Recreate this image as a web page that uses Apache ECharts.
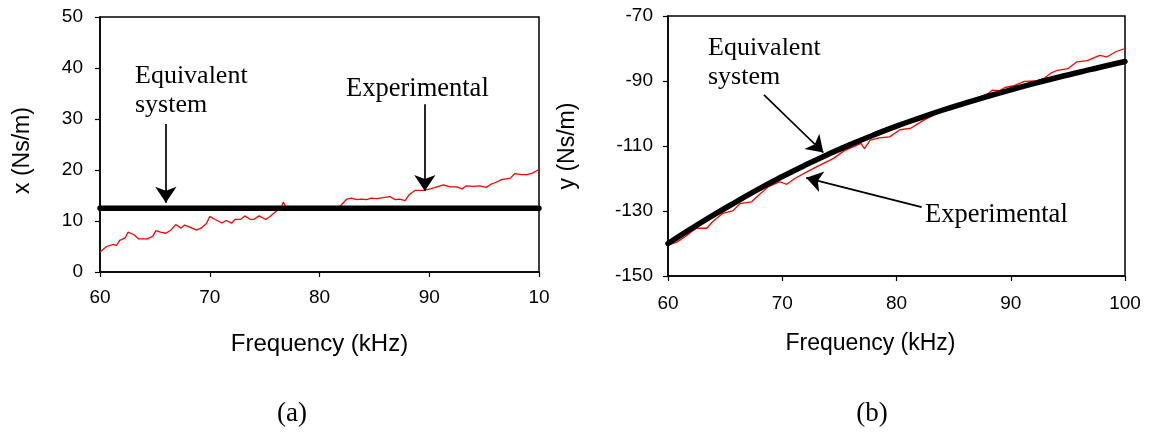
<!DOCTYPE html>
<html>
<head>
<meta charset="utf-8">
<script src="https://cdn.jsdelivr.net/npm/echarts@6/dist/echarts.min.js"></script>
<style>
html,body{margin:0;padding:0;background:#fff;}
#chart{width:1152px;height:443px;}
</style>
</head>
<body>
<div id="chart"></div>
<script>
// ---- Data ----
const xTicks = [60, 70, 80, 90, 100];
const leftXTickLabels = ['60', '70', '80', '90', '10'];
const rightXTickLabels = ['60', '70', '80', '90', '100'];
const leftYTicks = [0, 10, 20, 30, 40, 50];
const rightYTicks = [-150, -130, -110, -90, -70];

// (a) real part: experimental (red) and equivalent system (black)
const leftExperimental = [
  [60,3.9],[60.6,5.0],[61.2,5.4],[61.5,5.2],[61.8,6.2],[62.3,6.7],[62.55,7.8],[63.1,7.3],[63.5,6.5],
  [64.3,6.5],[64.8,7.0],[65.1,8.1],[65.5,7.8],[66.0,7.6],[66.5,8.3],[66.9,9.3],[67.4,8.6],[67.7,9.2],
  [68.2,8.8],[68.8,8.2],[69.2,8.6],[69.7,9.5],[70.0,10.9],[70.5,10.3],[71.1,9.6],[71.5,10.1],[72.0,9.6],
  [72.3,10.3],[72.8,10.3],[73.2,11.0],[73.7,10.3],[74.0,10.3],[74.5,11.0],[75.1,10.3],[75.5,10.9],
  [76.0,11.8],[76.5,12.5],[76.7,13.7],[77.0,12.6],[78,12.4],[79,12.5],[80,12.4],[81,12.6],[81.8,12.8],
  [82.0,13.2],[82.5,14.3],[82.9,14.5],[83.4,14.2],[83.8,14.3],[84.3,14.2],[84.7,14.5],[85.2,14.4],
  [85.8,14.6],[86.4,14.8],[86.9,14.2],[87.3,14.3],[87.8,14.0],[88.2,15.2],[88.7,16.0],[89.5,16.0],
  [90.1,16.3],[90.7,16.7],[91.3,17.1],[91.9,16.7],[92.5,16.7],[93.0,16.3],[93.4,16.9],[94.0,16.8],
  [94.6,16.9],[95.2,16.6],[95.7,17.3],[96.1,17.6],[96.6,18.1],[97.4,18.4],[97.8,19.3],[98.4,19.1],
  [98.9,19.1],[99.4,19.4],[100,20.1]
];
const leftEquivalent = [[60,12.5],[70,12.5],[80,12.5],[90,12.5],[100,12.5]];

// (b) imaginary part
const rightExperimental = [
  [60,-140.5],[60.8,-139.5],[61.5,-137.9],[62.0,-136.5],[62.5,-135.3],[63.4,-135.3],[63.9,-133.3],
  [64.8,-130.7],[65.7,-129.9],[66.3,-127.7],[67.3,-127.2],[68.1,-124.6],[68.8,-122.5],[69.8,-121.0],
  [70.4,-121.8],[71.1,-120.0],[72.2,-117.9],[73.3,-115.9],[74.5,-113.8],[75.4,-111.5],[76.9,-109.2],
  [77.2,-110.8],[77.7,-108.2],[78.5,-107.5],[79.4,-107.2],[80.3,-105.0],[81.2,-104.6],[82.5,-101.8],
  [84,-99.3],[85.5,-97.5],[87.0,-95.3],[88.0,-93.9],[88.4,-92.8],[89.0,-93.0],[89.5,-92.0],[90.3,-91.4],
  [91.2,-90.1],[92.2,-90.0],[92.9,-89.2],[93.5,-87.6],[94.1,-86.7],[95.0,-86.2],[95.8,-84.1],[96.7,-83.7],
  [97.8,-82.1],[98.4,-82.6],[99.2,-81.0],[100,-80.0]
];
const rightEquivalent = [
  [60,-140],[62,-135.5],[64,-131.2],[66,-127.1],[68,-123.1],[70,-119.4],[72,-115.9],[74,-112.6],
  [76,-109.5],[78,-106.6],[80,-103.9],[82,-101.4],[84,-99.0],[86,-96.8],[88,-94.7],[90,-92.7],
  [92,-90.8],[94,-89.0],[96,-87.3],[98,-85.6],[100,-84.0]
];

// annotation arrows (data coordinates: [from, to])
const leftArrows = [
  [[66.0, 29.0], [66.0, 13.6]],
  [[89.6, 32.9], [89.6, 15.9]]
];
const rightArrows = [
  [[68.4, -94.3], [73.6, -112.0]],
  [[82.2, -128.8], [72.1, -119.8]]
];

// ---- Chart ----
const SANS = 'Liberation Sans, Arial, sans-serif';
const SERIF = 'Liberation Serif, Times New Roman, serif';

function mkXAxis(gridIndex, labels, margin, gap, namePad, nameSize) {
  return {
    type: 'value', gridIndex, min: 60, max: 100, interval: 10,
    name: 'Frequency (kHz)', nameLocation: 'middle', nameGap: gap,
    nameTextStyle: { fontFamily: SANS, fontSize: nameSize, color: '#000', padding: namePad },
    axisLine: { show: true, onZero: false, lineStyle: { color: '#000', width: 1.5 } },
    axisTick: { show: true, inside: false, length: 5, lineStyle: { color: '#000', width: 1.2 } },
    axisLabel: { margin, fontFamily: SANS, fontSize: 19, color: '#000',
      formatter: v => labels[xTicks.indexOf(v)] },
    splitLine: { show: false }
  };
}
function mkYAxis(gridIndex, ticks, name, margin, gap, namePad) {
  return {
    type: 'value', gridIndex, min: ticks[0], max: ticks[ticks.length - 1],
    interval: ticks[1] - ticks[0],
    name, nameLocation: 'middle', nameGap: gap,
    nameTextStyle: { fontFamily: SANS, fontSize: 23, color: '#000', padding: namePad },
    axisLine: { show: true, onZero: false, lineStyle: { color: '#000', width: 1.5 } },
    axisTick: { show: true, inside: false, length: 5, lineStyle: { color: '#000', width: 1.2 } },
    axisLabel: { margin, fontFamily: SANS, fontSize: 19, color: '#000' },
    splitLine: { show: false }
  };
}
function arrowMarkLine(arrows) {
  return {
    silent: true, animation: false,
    symbol: ['none', 'arrow'], symbolSize: [16, 16],
    label: { show: false },
    lineStyle: { color: '#000', width: 1.7, type: 'solid' },
    emphasis: { disabled: true },
    data: arrows.map(a => [{ coord: a[0] }, { coord: a[1] }])
  };
}
function textEl(text, x, y, size, family, align) {
  return { type: 'text', x, y, silent: true,
    style: { text, fill: '#000', font: size + 'px ' + family, align: align || 'left', verticalAlign: 'middle' } };
}

const chart = echarts.init(document.getElementById('chart'), null, { renderer: 'canvas' });
chart.setOption({
  animation: false,
  backgroundColor: '#fff',
  grid: [
    { left: 100, right: 613, top: 17, bottom: 171, show: true, borderColor: '#000', borderWidth: 1.5, backgroundColor: 'transparent' },
    { left: 668, right: 27, top: 16, bottom: 167, show: true, borderColor: '#000', borderWidth: 1.5, backgroundColor: 'transparent' }
  ],
  xAxis: [
    mkXAxis(0, leftXTickLabels, 16, 60, [0, 0, 0, 0], 24),
    mkXAxis(1, rightXTickLabels, 18, 56, [0, 52, 0, 0], 23)
  ],
  yAxis: [
    mkYAxis(0, leftYTicks, 'x (Ns/m)', 17, 66, [0, 12, 0, 0]),
    mkYAxis(1, rightYTicks, 'y (Ns/m)', 15, 89, [0, 0, 0, 0])
  ],
  series: [
    { type: 'line', name: 'Experimental', xAxisIndex: 0, yAxisIndex: 0, data: leftExperimental,
      showSymbol: false, lineStyle: { color: '#ff0000', width: 1.3 }, z: 2,
      markLine: arrowMarkLine(leftArrows) },
    { type: 'line', name: 'Equivalent system', xAxisIndex: 0, yAxisIndex: 0, data: leftEquivalent,
      showSymbol: false, lineStyle: { color: '#000', width: 5.5, cap: 'round' }, z: 3 },
    { type: 'line', name: 'Experimental', xAxisIndex: 1, yAxisIndex: 1, data: rightExperimental,
      showSymbol: false, lineStyle: { color: '#ff0000', width: 1.3 }, z: 2,
      markLine: arrowMarkLine(rightArrows) },
    { type: 'line', name: 'Equivalent system', xAxisIndex: 1, yAxisIndex: 1, data: rightEquivalent,
      showSymbol: false, smooth: true, lineStyle: { color: '#000', width: 5.5, cap: 'round' }, z: 3 }
  ],
  graphic: [
    textEl('Equivalent', 135, 76, 26, SERIF),
    textEl('system', 135, 105, 26, SERIF),
    textEl('Experimental', 346, 89, 26.5, SERIF),
    textEl('Equivalent', 708, 48, 26, SERIF),
    textEl('system', 708, 77, 26, SERIF),
    textEl('Experimental', 925, 215, 26.5, SERIF),
    textEl('(a)', 292, 414, 27, SERIF, 'center'),
    textEl('(b)', 872, 414, 27, SERIF, 'center')
  ]
});
</script>
</body>
</html>
